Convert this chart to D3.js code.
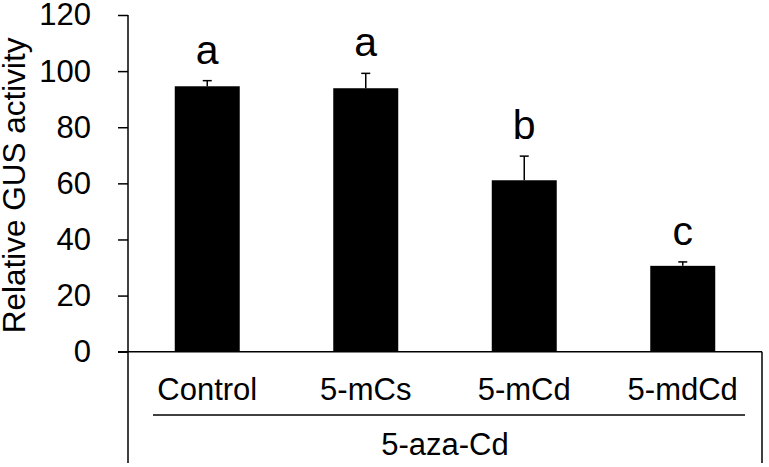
<!DOCTYPE html>
<html>
<head>
<meta charset="utf-8">
<script src="https://cdn.jsdelivr.net/npm/d3@7"></script>
<style>
  html, body { margin: 0; padding: 0; background: #fff; }
  svg { display: block; font-family: Arial, "Liberation Sans", sans-serif; }
</style>
</head>
<body>
<svg id="chart" width="769" height="467"></svg>
<script>
const categories = ["Control", "5-mCs", "5-mCd", "5-mdCd"];
const values = [94.6, 93.9, 61.1, 30.6];
const errors = [2.0, 5.3, 8.6, 1.4];
const sigLetters = ["a", "a", "b", "c"];
const yTicks = [0, 20, 40, 60, 80, 100, 120];
const groupLabel = "5-aza-Cd";
const yTitle = "Relative GUS activity";

const svg = d3.select("#chart");
const plotLeft = 128, plotRight = 762, plotTop = 15, plotBottom = 351.7, frameBottom = 463;

const x = d3.scaleBand().domain(categories).range([plotLeft, plotRight])
  .paddingInner(0.59).paddingOuter(0.295);
const y = d3.scaleLinear().domain([0, 120]).range([plotBottom, plotTop]);

// bars
svg.append("g").selectAll("rect").data(categories).join("rect")
  .attr("x", d => x(d))
  .attr("width", x.bandwidth())
  .attr("y", (d, i) => y(values[i]))
  .attr("height", (d, i) => y(0) - y(values[i]))
  .attr("fill", "#000");

// error bars
const eg = svg.append("g").attr("stroke", "#000").attr("stroke-width", 1.5);
categories.forEach((c, i) => {
  const cx = x(c) + x.bandwidth() / 2;
  eg.append("line").attr("x1", cx).attr("x2", cx)
    .attr("y1", y(values[i])).attr("y2", y(values[i] + errors[i]));
  eg.append("line").attr("x1", cx - 4.5).attr("x2", cx + 4.5)
    .attr("y1", y(values[i] + errors[i])).attr("y2", y(values[i] + errors[i]));
});

// significance letters
svg.append("g").selectAll("text").data(categories).join("text")
  .attr("x", d => x(d) + x.bandwidth() / 2)
  .attr("y", (d, i) => y(values[i] + errors[i]) - 17)
  .attr("text-anchor", "middle")
  .attr("font-size", 41)
  .attr("fill", "#000")
  .text((d, i) => sigLetters[i]);

// y axis
const yAxis = d3.axisLeft(y).tickValues(yTicks).tickSize(10).tickPadding(27);
const ya = svg.append("g").attr("transform", `translate(${plotLeft},0)`).call(yAxis);
ya.select(".domain").remove();
ya.selectAll(".tick line").attr("stroke", "#000").attr("stroke-width", 1.5);
ya.selectAll(".tick text").attr("font-size", 31).attr("fill", "#000")
  .attr("font-family", "Arial, 'Liberation Sans', sans-serif");

// frame lines
const fg = svg.append("g").attr("stroke", "#000").attr("stroke-width", 1.5);
fg.append("line").attr("x1", plotLeft).attr("x2", plotLeft).attr("y1", plotTop).attr("y2", frameBottom);
fg.append("line").attr("x1", plotLeft - 10).attr("x2", plotRight).attr("y1", y(0)).attr("y2", y(0));
fg.append("line").attr("x1", plotRight).attr("x2", plotRight).attr("y1", y(0)).attr("y2", frameBottom);
// group underline
fg.append("line").attr("x1", plotLeft + 25).attr("x2", plotRight - 17).attr("y1", 415).attr("y2", 415);

// category labels
svg.append("g").selectAll("text").data(categories).join("text")
  .attr("x", d => x(d) + x.bandwidth() / 2)
  .attr("y", 400)
  .attr("text-anchor", "middle")
  .attr("font-size", 31)
  .attr("fill", "#000")
  .text(d => d);

// group label
svg.append("text")
  .attr("x", (plotLeft + plotRight) / 2).attr("y", 455)
  .attr("text-anchor", "middle").attr("font-size", 31).attr("fill", "#000")
  .text(groupLabel);

// y title
svg.append("text")
  .attr("transform", `translate(25,${(plotTop + plotBottom) / 2 + 2}) rotate(-90)`)
  .attr("text-anchor", "middle").attr("font-size", 31.5).attr("fill", "#000")
  .text(yTitle);
</script>
</body>
</html>
